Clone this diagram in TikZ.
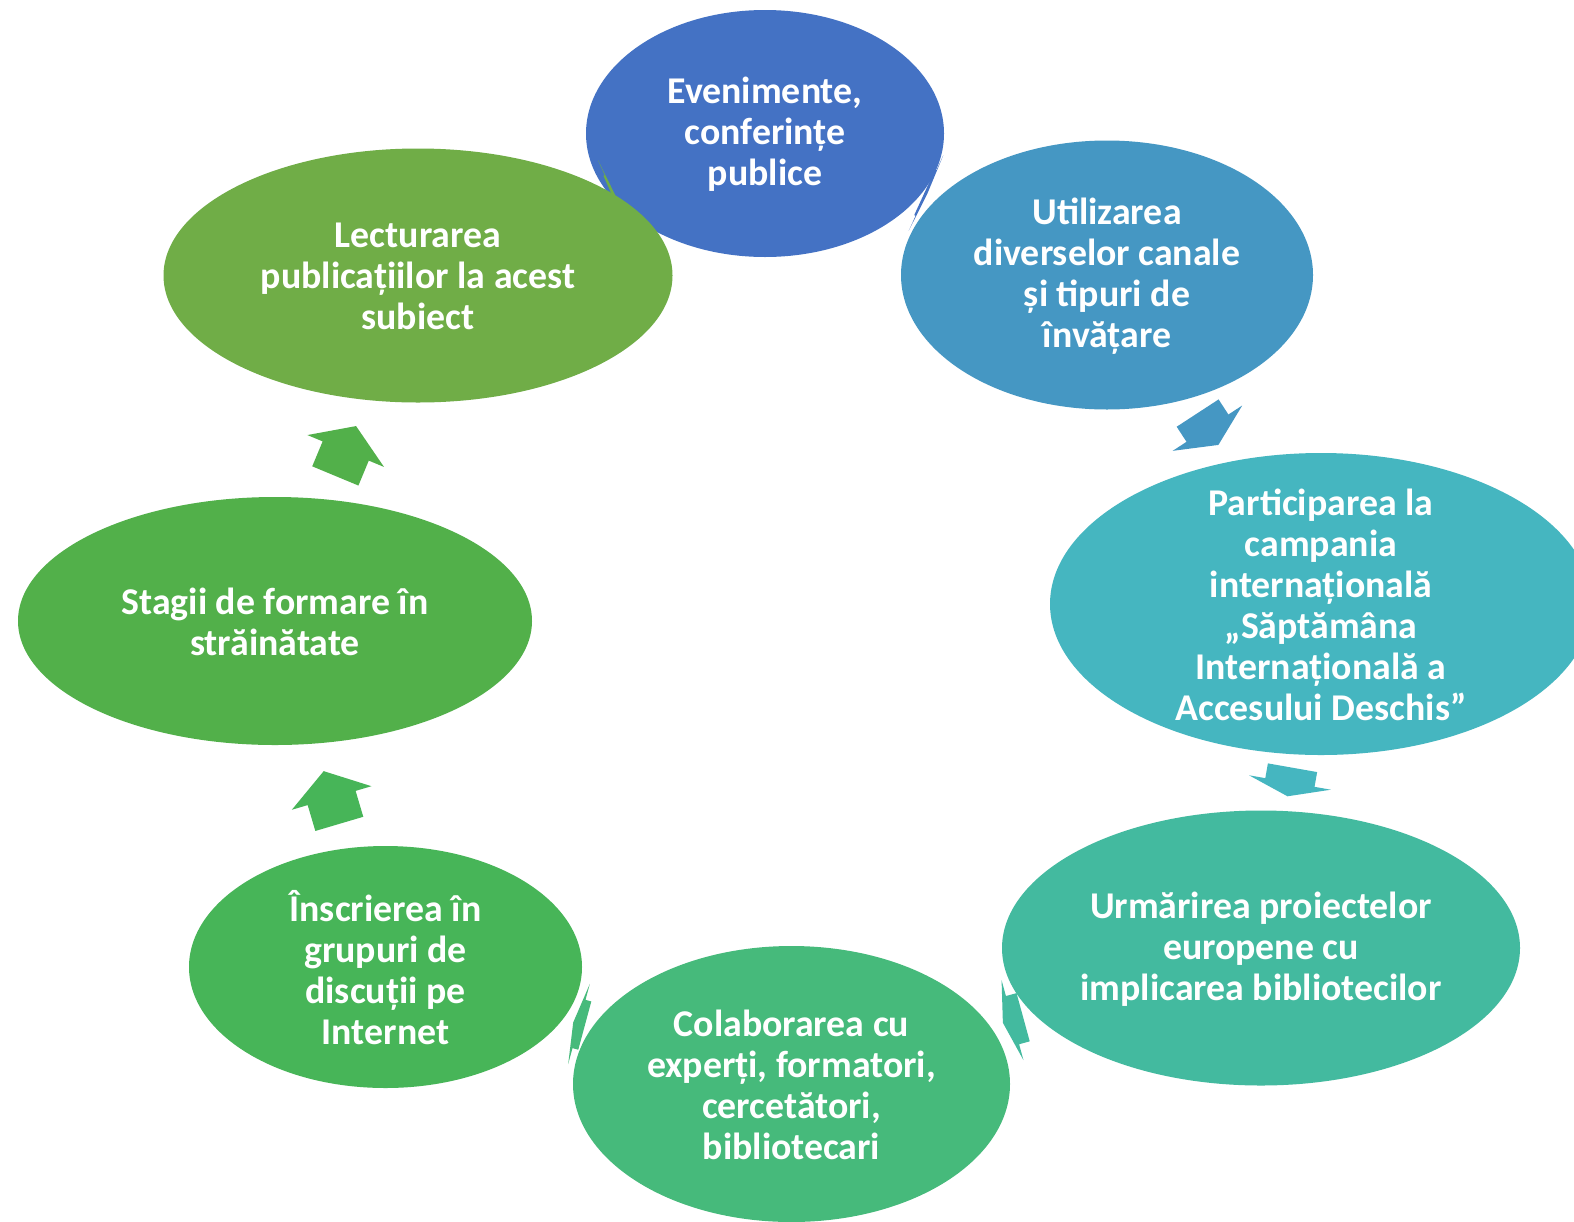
\documentclass[tikz,border=0pt]{standalone}
\usepackage{fontspec}
\setmainfont{Carlito}
\usetikzlibrary{shapes.geometric}
\definecolor{c1}{HTML}{4472C4}
\definecolor{c2}{HTML}{4597C3}
\definecolor{c3}{HTML}{45B6C0}
\definecolor{c4}{HTML}{43BA9F}
\definecolor{c5}{HTML}{46BA7B}
\definecolor{c6}{HTML}{47B558}
\definecolor{c7}{HTML}{52B04A}
\definecolor{c8}{HTML}{70AD47}
\newcommand{\blockarr}[6]{%
\begin{scope}[shift={(#1,#2)},rotate={-(#3)}]
\fill[#6] ({-(#4+#5)/2},-25) -- ({-(#4+#5)/2+#4},-25) -- ({-(#4+#5)/2+#4},-41.5) -- ({(#4+#5)/2},0) -- ({-(#4+#5)/2+#4},41.5) -- ({-(#4+#5)/2+#4},25) -- ({-(#4+#5)/2},25) -- cycle;
\end{scope}}
\tikzset{
  bubble/.style={ellipse, inner sep=0pt, draw=none},
  btext/.style={text=white, align=center, font=\bfseries\fontsize{37.8}{41}\selectfont, inner sep=0pt}
}
\begin{document}
\begin{tikzpicture}[x=1pt,y=-1pt]
\useasboundingbox (0,0) rectangle (1574,1221);
\fill[white] (0,0) rectangle (1574,1221);
% 1
\node[bubble, fill=c1, minimum width=358pt, minimum height=247pt] (e1) at (765,133.5) {};
\node[btext] (t1) at ([yshift=-1pt]e1.center) {Evenimente,\\conferințe\\publice};
\blockarr{926}{193}{24.6}{1.5}{1.5}{c1}
% 2
\node[bubble, fill=c2, minimum width=412pt, minimum height=269pt] (e2) at (1107,275) {};
\node[btext] (t2) at ([yshift=-1pt]e2.center) {Utilizarea\\diverselor canale\\și tipuri de\\învățare};
\blockarr{1208}{429}{56.9}{18}{20}{c2}
% 3
\node[bubble, fill=c3, minimum width=542pt, minimum height=302pt] (e3) at (1321,604) {};
\node[btext] (t3) at ([yshift=-1pt]e3.center) {Participarea la\\campania\\internațională\\„Săptămâna\\Internațională a\\Accesului Deschis”};
\blockarr{1290}{782}{100}{15}{14}{c3}
% 4
\node[bubble, fill=c4, minimum width=518pt, minimum height=275pt] (e4) at (1261,948) {};
\node[btext] (t4) at ([yshift=-1pt]e4.center) {Urmărirea proiectelor\\europene cu\\implicarea bibliotecilor};
\blockarr{1013}{1020}{164.7}{11}{10}{c4}
% 5
\node[bubble, fill=c5, minimum width=437pt, minimum height=276pt] (e5) at (791.5,1084) {};
\node[btext] (t5) at ([yshift=-1pt]e5.center) {Colaborarea cu\\experți, formatori,\\cercetători,\\bibliotecari};
\blockarr{579}{1024}{195.1}{6}{6}{c5}
% 6
\node[bubble, fill=c6, minimum width=393pt, minimum height=242pt] (e6) at (385.5,967) {};
\node[btext] (t6) at ([yshift=-1pt]e6.center) {Înscrierea în\\grupuri de\\discuții pe\\Internet};
\blockarr{331.5}{797.5}{253.5}{27}{28}{c6}
% 7
\node[bubble, fill=c7, minimum width=514pt, minimum height=248pt] (e7) at (275,621) {};
\node[btext] (t7) at ([yshift=-1pt]e7.center) {Stagii de formare în\\străinătate};
\blockarr{345.7}{451}{-67.4}{27}{27}{c7}
% 8
\node[bubble, fill=c8, minimum width=509pt, minimum height=254pt] (e8) at (418,275.5) {};
\node[btext] (t8) at ([yshift=-1pt]e8.center) {Lecturarea\\publicațiilor la acest\\subiect};
\blockarr{615}{198}{-24.2}{1.5}{1.5}{c8}
\end{tikzpicture}
\end{document}
